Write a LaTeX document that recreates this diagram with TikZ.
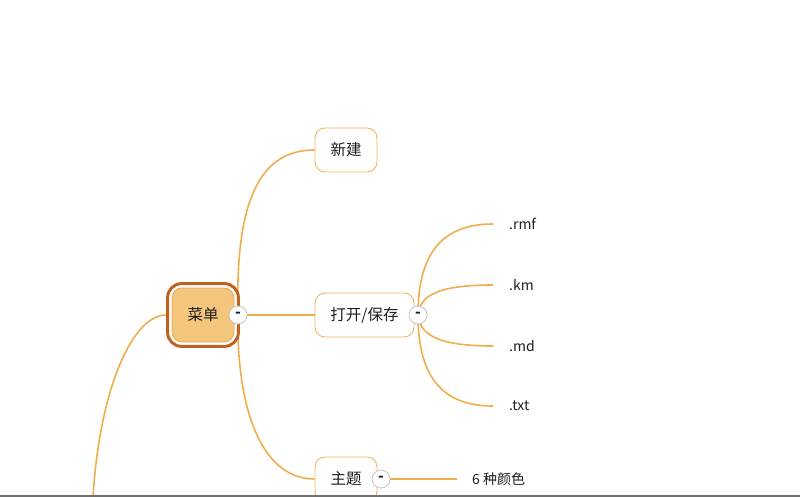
\documentclass[tikz,border=0pt]{standalone}
\usepackage{fontspec}
\setmainfont{Noto Sans CJK SC}
\usepackage{xcolor}
\usetikzlibrary{fit,backgrounds}

\definecolor{branchcol}{RGB}{239,173,76}
\definecolor{topiccol}{RGB}{240,182,96}
\definecolor{menufill}{RGB}{243,197,125}
\definecolor{menuline}{RGB}{230,168,88}
\definecolor{ringcol}{RGB}{190,98,30}
\definecolor{foldcol}{RGB}{196,196,196}
\definecolor{textcol}{RGB}{30,30,30}
\definecolor{barcol}{RGB}{112,112,112}

\tikzset{
  menubox/.style={draw=menuline, line width=0.8pt, fill=menufill, rounded corners=10pt,
    minimum width=62pt, minimum height=54pt, inner sep=0pt,
    font=\fontsize{15.5}{18}\selectfont, text=textcol},
  topic/.style={draw=topiccol, line width=0.9pt, fill=white, rounded corners=10pt,
    minimum height=44pt, inner sep=0pt, font=\fontsize{15.5}{18}\selectfont, text=textcol},
  leaf/.style={anchor=west, inner sep=0pt, font=\fontsize{14}{17}\selectfont, text=textcol},
  fold/.style={circle, draw=foldcol, line width=0.8pt, fill=white, minimum size=18pt,
    inner sep=0pt, font=\fontsize{15}{15}\bfseries, text=textcol},
  branchedge/.style={draw=branchcol, line width=1.6pt}
}

\begin{document}
\begin{tikzpicture}[x=1pt,y=-1pt]
  \path[use as bounding box] (0,0) rectangle (800,497);

  % Root
  \node[menubox] (menu) at (203,315) {菜单};
  \node[draw=ringcol, line width=3pt, rounded corners=14pt, fit=(menu), inner sep=4pt] (menuring) {};
  \node[fold] (togmenu) at (238,315) {-};

  % Topics
  \node[topic, minimum width=62pt] (newfile) at (346,150) {新建};
  \node[topic, minimum width=99pt] (openfile) at (364.5,315) {打开/保存};
  \node[fold] (togopen) at (418,315) {-};
  \node[topic, minimum width=62pt] (theme) at (346,479) {主题};
  \node[fold] (togtheme) at (381,479) {-};

  % Leaves
  \node[leaf] (rmf) at (509,224) {.rmf};
  \node[leaf] (km) at (509,285) {.km};
  \node[leaf] (md) at (509,346) {.md};
  \node[leaf] (txt) at (509,406) {.txt};
  \node[leaf] (colors) at (472,479) {6 种颜色};

  % Child below the view
  \coordinate (lost) at (92,520);

  % Branches
  \begin{pgfonlayer}{background}
    \draw[branchedge] (togmenu.center) -- (openfile.west);
    \draw[branchedge] (togmenu.center) .. controls (235,200) and (260,150) .. (newfile.west);
    \draw[branchedge] (togmenu.center) .. controls (236,400) and (258,479) .. (theme.west);
    \draw[branchedge] (menuring.west) .. controls (130,315) and (95,400) .. (lost);

    \draw[branchedge] (togopen.center) .. controls (418,250) and (445,224) .. ([xshift=-16pt]rmf.west);
    \draw[branchedge] (togopen.center) .. controls (420,298) and (432,285) .. ([xshift=-16pt]km.west);
    \draw[branchedge] (togopen.center) .. controls (420,332) and (432,346) .. ([xshift=-16pt]md.west);
    \draw[branchedge] (togopen.center) .. controls (418,380) and (445,406) .. ([xshift=-16pt]txt.west);

    \draw[branchedge] (togtheme.center) -- ([xshift=-15pt]colors.west);
  \end{pgfonlayer}

  % Bottom bar
  \fill[barcol] (0,494.5) rectangle (800,497);
\end{tikzpicture}
\end{document}
